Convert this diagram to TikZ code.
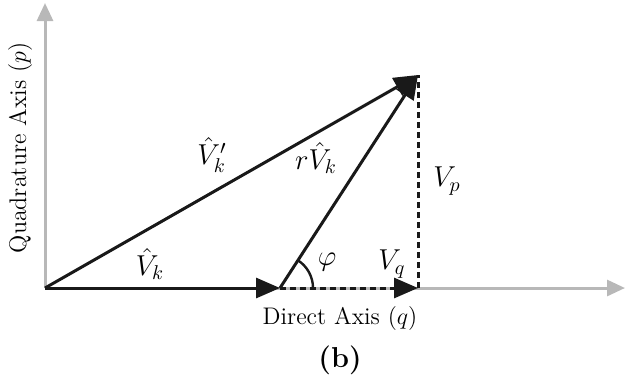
\documentclass[tikz,border=0pt]{standalone}
\usepackage{amsmath}
\usepackage{tikz}
\usetikzlibrary{arrows.meta, positioning, calc}

\begin{document}
\begin{tikzpicture}[
  x=0.5pt, y=-0.5pt,
  axis/.style={-{Triangle[length=9pt, width=8pt]}, line width=1.5pt, black!28},
  vec/.style={-{Triangle[length=12pt, width=10pt]}, line width=1.5pt, black!90},
  proj/.style={line width=1.5pt, black!90, dash pattern=on 3pt off 2pt},
  lbl/.style={inner sep=1pt, font=\large},
  sym/.style={inner sep=1pt, font=\Large}
]
\useasboundingbox (0,0) rectangle (625,388);

% points
\coordinate (O) at (45,288);
\coordinate (A) at (280,288);
\coordinate (P) at (418,75);
\coordinate (Q) at (418,288);
\coordinate (Ytop) at (45,3);
\coordinate (Xend) at (625,288);

% axes
\draw[axis] (O) -- (Ytop);
\draw[axis] (O) -- (Xend);
\node[lbl, rotate=90] (ylab) at (20,148) {Quadrature Axis $(p)$};
\node[lbl] (xlab) at (340,318) {Direct Axis $(q)$};

% vectors
\draw[proj] (Q) -- (P);
\draw[proj, -{Triangle[length=12pt, width=10pt]}] (A) -- (Q);
\draw[vec] (O) -- (A);
\draw[vec] (A) -- (P);
\draw[vec] (O) -- (P);

% angle
\draw[line width=1.2pt, black!90] ($(A)+(33,0)$) arc[start angle=0, end angle=-57, radius=33];

\node[sym] (vk) at (150,264) {$\hat{V}_k$};
\node[sym] (vkp) at (212,155) {$\hat{V}_k'$};
\node[sym] (rvk) at (316,158) {$r\hat{V}_k$};
\node[sym] (phi) at (327,262) {$\varphi$};
\node[sym] (vq) at (392,264) {$V_q$};
\node[sym] (vp) at (447,181) {$V_p$};

\node[sym] (cap) at (340,360) {\textbf{(b)}};
\end{tikzpicture}
\end{document}
